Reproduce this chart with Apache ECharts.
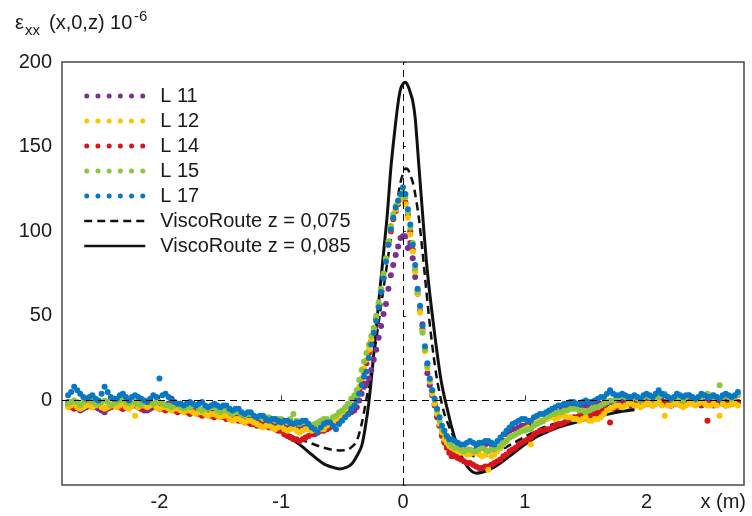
<!DOCTYPE html>
<html><head><meta charset="utf-8">
<script src="https://cdn.jsdelivr.net/npm/echarts/dist/echarts.min.js"></script>
<style>html,body{margin:0;padding:0;background:#fff}#c{width:752px;height:516px}</style>
</head><body><div id="c"></div>
<script>
// measurement positions (m)
const xs = [
-2.75,-2.70,-2.65,-2.60,-2.55,-2.50,-2.45,-2.40,-2.35,-2.30,-2.25,-2.20,-2.15,-2.10,-2.05,-2.00,-1.95,-1.90,-1.85,-1.80,-1.75,-1.70,-1.65,-1.60,-1.55,-1.50,-1.45,-1.40,-1.35,-1.30,-1.25,-1.20,-1.15,-1.10,-1.05,-1.00,-0.95,-0.90,-0.85,-0.80,-0.75,-0.70,-0.65,-0.60,-0.55,-0.50,-0.45,-0.40,
-0.38,-0.36,-0.34,-0.32,-0.30,-0.28,-0.26,-0.24,-0.22,-0.20,-0.18,-0.16,-0.14,-0.12,-0.10,-0.08,-0.06,-0.04,-0.02,0.00,0.02,0.04,0.06,0.08,0.10,0.12,0.14,0.16,0.18,0.20,0.22,0.24,0.26,0.28,0.30,0.32,0.34,0.36,0.38,
0.40,0.45,0.50,0.55,0.60,0.65,0.70,0.75,0.80,0.85,0.90,0.95,1.00,1.05,1.10,1.15,1.20,1.25,1.30,1.35,1.40,1.45,1.50,1.55,1.60,1.65,1.70,1.75,1.80,1.85,1.90,1.95,2.00,2.05,2.10,2.15,2.20,2.25,2.30,2.35,2.40,2.45,2.50,2.55,2.60,2.65,2.70,2.75
];
// in-between measurement positions outside the peak (m)
const xsMid = [
-2.725,-2.675,-2.625,-2.575,-2.525,-2.475,-2.425,-2.375,-2.325,-2.275,-2.225,-2.175,-2.125,-2.075,-2.025,-1.975,-1.925,-1.875,-1.825,-1.775,-1.725,-1.675,-1.625,-1.575,-1.525,-1.475,-1.425,-1.375,-1.325,-1.275,-1.225,-1.175,-1.125,-1.075,-1.025,-0.975,-0.925,-0.875,-0.825,-0.775,-0.725,-0.675,-0.625,-0.575,-0.525,-0.475,-0.425,
0.425,0.475,0.525,0.575,0.625,0.675,0.725,0.775,0.825,0.875,0.925,0.975,1.025,1.075,1.125,1.175,1.225,1.275,1.325,1.375,1.425,1.475,1.525,1.575,1.625,1.675,1.725,1.775,1.825,1.875,1.925,1.975,2.025,2.075,2.125,2.175,2.225,2.275,2.325,2.375,2.425,2.475,2.525,2.575,2.625,2.675,2.725
];
const L11 = [
-1,-3,-6,-4,-3,-5,-7,-4,-3,-5, -4,-2,-5,-6,-4,-5,-3,1,-5,-4, -7,-6,-8,-7,-6,-9,-8,-10,-9,-11, -10,-12,-13,-12,-14,-13,-15,-14,-16,-15, -17,-18,-16,-15,-13,-11,-8,-6,
-4,0,4,8,10,13,18,24,30,37, 44,51,57,66,74,80,86,91,96,97, 97,90,93,84,73,63,55,45,30,16, 9,3,-3,-10,-15,-20,-24,-26,-28,
-29,-31,-30,-31,-29,-27,-25,-27,-28,-20, -17,-16,-15,-14,-13,-12,-10,-8,-6,-5, -3,-4,-3,-5,-2,-3,-1,-2,0,-2, -1,-3,-1,-2,0,-1,-3,-2,0,-1, -2,0,-1,-3,-1,0,-2,-1
];
const L11b = [
-2,-4,-5,-3,-4,-6,-5,-3,-4,-4, -3,-3,-6,-5,-4,-4,-2,-4,-5,-6, -6,-7,-7,-6,-8,-8,-9,-9,-10,-10, -11,-12,-12,-13,-13,-14,-14,-15,-15,-16, -18,-17,-15,-14,-12,-9,-7,
-30,-31,-29,-30,-28,-26,-26,-28,-24,-18, -17,-15,-14,-14,-12,-11,-9,-7,-5,-4, -4,-3,-4,-3,-2,-2,-1,-1,-1,-2, -2,-2,-1,-1,0,-2,-2,-1,0,-1, -1,-1,-2,-2,-1,-1,-1
];
const L12 = [
-4,-2,-5,-3,-4,-2,-5,-3,-4,-2, -5,-9,-3,-4,-2,-5,-4,-6,-5,-7, -6,-8,-7,-9,-8,-10,-9,-12,-11,-13, -12,-14,-16,-15,-17,-15,-18,-16,-19,-17, -18,-16,-17,-14,-11,-8,-4,0,
3,8,13,19,24,30,36,42,49,57, 65,74,83,92,101,108,113,117,119,121, 116,108,98,88,76,63,52,41,29,19, 11,4,-2,-8,-14,-19,-23,-25,-27,
-28,-30,-31,-32,-31,-33,-41,-32,-28,-24, -21,-19,-17,-26,-13,-12,-10,-11,-9,-10, -11,-12,-10,-12,-11,-8,-5,-3,-4,-2, -3,-4,-2,-3,-1,-9,-3,-2,-4,-2, -3,-1,-3,-2,-9,-3,-2,-3
];
const L12b = [
-3,-4,-4,-3,-3,-4,-4,-3,-3,-4, -3,-4,-3,-3,-4,-4,-5,-5,-6,-6, -7,-7,-8,-8,-9,-9,-11,-11,-12,-12, -13,-15,-15,-16,-16,-17,-17,-18,-18,-17, -17,-17,-15,-13,-10,-6,-2,
-29,-31,-32,-31,-32,-32,-33,-30,-26,-22, -20,-18,-16,-14,-12,-11,-10,-10,-9,-10, -11,-11,-12,-11,-10,-6,-4,-3,-3,-2, -3,-3,-2,-2,-3,-3,-2,-3,-3,-2, -2,-2,-3,-3,-2,-3,-2
];
const L14 = [
-3,-5,-4,-2,-4,-3,-5,-4,-3,-5, -4,-3,-5,-4,-3,-4,-6,-5,-7,-6, -8,-7,-9,-8,-10,-9,-11,-10,-12,-13, -14,-15,-14,-16,-17,-18,-21,-23,-24,-22, -20,-19,-18,-16,-13,-9,-5,-2,
1,6,11,17,22,28,35,41,48,56, 64,73,83,92,100,107,112,116,119,120, 117,110,100,89,77,65,53,42,31,21, 12,5,-2,-9,-15,-21,-25,-28,-31,
-33,-34,-36,-37,-39,-40,-39,-37,-35,-32, -29,-26,-24,-22,-19,-18,-17,-15,-14,-12, -10,-9,-8,-9,-7,-6,-13,-4,-3,-2, -3,-1,-2,-3,-1,-2,-3,-1,-2,0, -2,-3,-12,-2,-1,-3,-2,-1
];
const L14b = [
-4,-4,-3,-3,-3,-4,-4,-3,-4,-4, -3,-4,-4,-3,-3,-5,-5,-6,-6,-7, -7,-8,-8,-9,-9,-10,-10,-11,-12,-13, -14,-15,-15,-16,-18,-20,-22,-23,-23,-21, -20,-18,-17,-15,-11,-7,-3,
-33,-35,-37,-38,-40,-39,-38,-36,-33,-30, -28,-25,-23,-20,-18,-17,-16,-14,-13,-11, -10,-9,-8,-8,-6,-5,-5,-3,-2,-3, -2,-1,-2,-2,-2,-2,-2,-1,-1,-1, -2,-2,-2,-2,-2,-2,-1
];
const L15 = [
-2,0,-3,1,-1,-2,0,-3,-1,1, -2,-1,-3,0,-2,-1,-3,-4,-2,-5, -4,-3,-6,-5,-4,-7,-6,-8,-7,-9, -8,-10,-11,-10,-12,-11,-13,-8,-14,-12, -15,-13,-11,-12,-9,-6,-2,3,
6,12,18,23,28,33,38,43,50,58, 66,75,84,94,103,110,115,118,121,123, 120,111,102,93,78,64,55,40,30,20, 12,6,0,-6,-12,-17,-20,-22,-25,
-27,-28,-30,-29,-30,-28,-30,-29,-27,-24, -21,-19,-18,-17,-14,-12,-9,-8,-7,-6, -5,-6,-7,-5,-4,-2,0,1,3,1, 2,0,3,1,2,4,1,2,0,3, 1,2,4,2,9,3,1,3
];
const L15b = [
-1,-1,-1,0,-2,-1,-1,-2,0,-1, -1,-2,-1,-1,-1,-2,-3,-3,-4,-4, -3,-5,-5,-4,-6,-6,-7,-7,-8,-8, -9,-10,-10,-11,-11,-12,-11,-12,-13,-14, -14,-12,-11,-10,-7,-4,1,
-28,-29,-29,-30,-29,-29,-29,-28,-25,-22, -20,-18,-17,-15,-13,-10,-8,-7,-6,-5, -5,-6,-6,-4,-3,-1,0,2,2,1, 1,2,2,1,3,2,1,1,2,2, 1,3,3,2,2,2,2
];
const L17 = [
3,8,4,1,3,0,8,2,1,4, 0,3,1,-1,3,13,4,0,-2,-3, -1,-3,-1,-4,-2,-4,-3,-6,-5,-8, -7,-10,-9,-12,-11,-13,-12,-14,-13,-12, -16,-19,-14,-13,-17,-12,-8,-3,
0,4,9,14,17,25,33,40,47,55, 64,72,82,92,101,108,114,118,122,126, 122,113,104,92,80,66,56,44,32,22, 13,6,1,-5,-10,-15,-18,-21,-23,
-23,-25,-26,-24,-26,-25,-24,-26,-22,-18, -14,-12,-11,-12,-9,-8,-6,-4,-3,-2, -1,-2,0,-1,1,2,6,3,4,2, 3,1,4,2,6,3,1,4,2,3, 1,4,2,3,1,4,2,5
];
const L17b = [
5,6,2,2,1,4,5,1,3,2, 2,2,0,1,2,3,2,-1,-2,-2, -2,-2,-3,-3,-3,-3,-5,-5,-7,-7, -9,-9,-11,-11,-12,-12,-13,-13,-12,-14, -17,-16,-13,-15,-14,-10,-5,
-24,-26,-25,-25,-25,-24,-25,-24,-20,-16, -13,-11,-12,-10,-8,-7,-5,-3,-2,-1, -2,-1,-1,0,2,4,4,3,3,2, 2,3,3,4,4,2,2,3,3,2, 2,3,2,2,3,3,3
];
// ViscoRoute model curves (visible part; outside it they lie under the measured dots)
const modelX = [
-0.95,-0.85,-0.75,-0.65,
-0.58,-0.52,-0.46,-0.42,-0.38,-0.34,-0.31,-0.28,-0.25,-0.22,
-0.19,-0.16,-0.13,-0.10,-0.07,-0.04,-0.02,0.00,0.02,0.04,
0.06,0.08,0.10,0.13,0.16,0.19,0.22,0.25,0.28,0.31,
0.34,0.37,0.40,0.45,0.50,0.55,0.60,0.65,0.72,0.80,
0.90,1.00,1.12,1.28,1.44,1.60,1.80,1.90
];
const visco075 = [
-20,-23,-25.5,-28,
-29.2,-29.6,-29.3,-27.5,-24,-14,-3,9,22,36,
51,66,81,96,109,121,129,134,137,136.5,
133,129,122,108,88,66,45,27,12,1,
-8,-14,-19,-26,-30,-32.5,-33,-33,-32,-29.5,
-25.5,-21.5,-17,-13,-10.5,-8,-6,-5.2
];
const visco085 = [
-21,-26,-32,-37.5,
-39.5,-40.5,-39.5,-37.5,-33,-27,-16,-1,20,43,
65,87,109,137,158,176,184,187,188,186,
182,177,167,139,111,84,63,45,28,13,
2,-7,-16,-28,-36,-41,-43,-42.5,-40.5,-37,
-31.5,-26,-20.7,-15.8,-12.5,-9.5,-6.5,-5.5
];
const xTickLabels = [-2,-1,0,1,2];
const yTickLabels = [0,50,100,150,200];
const lineNames = ['ViscoRoute z = 0,075','ViscoRoute z = 0,085'];

const FONT = '"Liberation Sans", Arial, Helvetica, sans-serif';
const colors = {'L 11':'#7B2F8E','L 12':'#FFC400','L 14':'#D8141C','L 15':'#8CC63F','L 17':'#0877C4'};
const values = {'L 11':[L11,L11b],'L 12':[L12,L12b],'L 14':[L14,L14b],'L 15':[L15,L15b],'L 17':[L17,L17b]};

// legend icon: six dots
let dots = '';
for (let k = 0; k < 6; k++) {
  const cx = 2.5 + k * 11.2;
  dots += 'M' + (cx - 2.5) + ',2.5a2.5,2.5 0 1,0 5,0a2.5,2.5 0 1,0 -5,0Z';
}
const dotIcon = 'path://' + dots;

function pairs(xArr, yArr) {
  const n = Math.min(xArr.length, yArr.length);
  const out = [];
  for (let i = 0; i < n; i++) out.push([xArr[i], yArr[i]]);
  return out;
}

const drawOrder = ['L 11','L 14','L 12','L 15','L 17'];
const scatterSeries = drawOrder.map(name => ({
  name, type:'scatter', z:3, symbol:'circle', symbolSize:6,
  itemStyle:{color:colors[name], opacity:1},
  emphasis:{disabled:true},
  data: pairs(xs, values[name][0]).concat(pairs(xsMid, values[name][1]))
}));

const chart = echarts.init(document.getElementById('c'), null, {renderer:'canvas'});
chart.setOption({
  animation:false,
  backgroundColor:'#fff',
  textStyle:{fontFamily:FONT},
  grid:{left:62, right:8, top:62, bottom:31, show:true, borderColor:'#4a4a4a', borderWidth:1.5, backgroundColor:'transparent'},
  xAxis:{type:'value', min:-2.8, max:2.8,
    axisLine:{show:false},
    axisTick:{show:true, inside:true, length:5, lineStyle:{color:'#333', width:1}},
    splitLine:{show:false},
    axisLabel:{fontSize:20, color:'#1a1a1a', margin:7, fontFamily:FONT, showMinLabel:false, showMaxLabel:false,
      formatter: v => xTickLabels.includes(Math.round(v*1000)/1000) ? String(v) : ''}
  },
  yAxis:{type:'value', min:-50, max:200, interval:50,
    axisLine:{show:false},
    axisTick:{show:true, inside:true, length:3, lineStyle:{color:'#333', width:1}},
    splitLine:{show:false},
    axisLabel:{fontSize:20, color:'#1a1a1a', margin:10, fontFamily:FONT,
      formatter: v => yTickLabels.includes(v) ? String(v) : ''}
  },
  legend:{
    orient:'vertical', left:83, top:86, padding:0, itemGap:5, itemWidth:61, itemHeight:5,
    selectedMode:false,
    textStyle:{fontSize:20, lineHeight:20, color:'#1a1a1a', fontFamily:FONT, padding:[0,0,0,10]},
    lineStyle:{width:2.5},
    data:[
      {name:'L 11', icon:dotIcon},{name:'L 12', icon:dotIcon},{name:'L 14', icon:dotIcon},
      {name:'L 15', icon:dotIcon},{name:'L 17', icon:dotIcon},
      {name:lineNames[0], itemStyle:{opacity:0}},{name:lineNames[1], itemStyle:{opacity:0}}
    ]
  },
  graphic:[
    {type:'text', silent:true, style:{x:15, y:23, text:'ε', font:'20px '+FONT, fill:'#1a1a1a', textVerticalAlign:'middle', verticalAlign:'middle'}},
    {type:'text', silent:true, style:{x:25, y:30.5, text:'xx', font:'15px '+FONT, fill:'#1a1a1a', textVerticalAlign:'middle', verticalAlign:'middle'}},
    {type:'text', silent:true, style:{x:49, y:23, text:'(x,0,z) 10', font:'20px '+FONT, fill:'#1a1a1a', textVerticalAlign:'middle', verticalAlign:'middle'}},
    {type:'text', silent:true, style:{x:134, y:17, text:'-6', font:'15px '+FONT, fill:'#1a1a1a', textVerticalAlign:'middle', verticalAlign:'middle'}},
    {type:'text', silent:true, style:{x:746, y:502, text:'x (m)', font:'20px '+FONT, fill:'#1a1a1a', textAlign:'right', align:'right', textVerticalAlign:'middle', verticalAlign:'middle'}}
  ],
  series:[
    {name:lineNames[0], type:'line', z:1, symbol:'none', smooth:0.3, data:pairs(modelX, visco075),
      lineStyle:{color:'#111', width:2.5, type:[8,5]}, itemStyle:{color:'#111'}, emphasis:{disabled:true},
      markLine:{silent:true, symbol:['none','none'], label:{show:false}, animation:false,
        lineStyle:{color:'#000', width:1, type:[7,5]}, emphasis:{disabled:true},
        data:[{yAxis:0},{xAxis:0}]}
    },
    {name:lineNames[1], type:'line', z:1, symbol:'none', smooth:0.3, data:pairs(modelX, visco085),
      lineStyle:{color:'#111', width:3, type:'solid'}, itemStyle:{color:'#111'}, emphasis:{disabled:true}}
  ].concat(scatterSeries)
});
</script>
</body></html>
